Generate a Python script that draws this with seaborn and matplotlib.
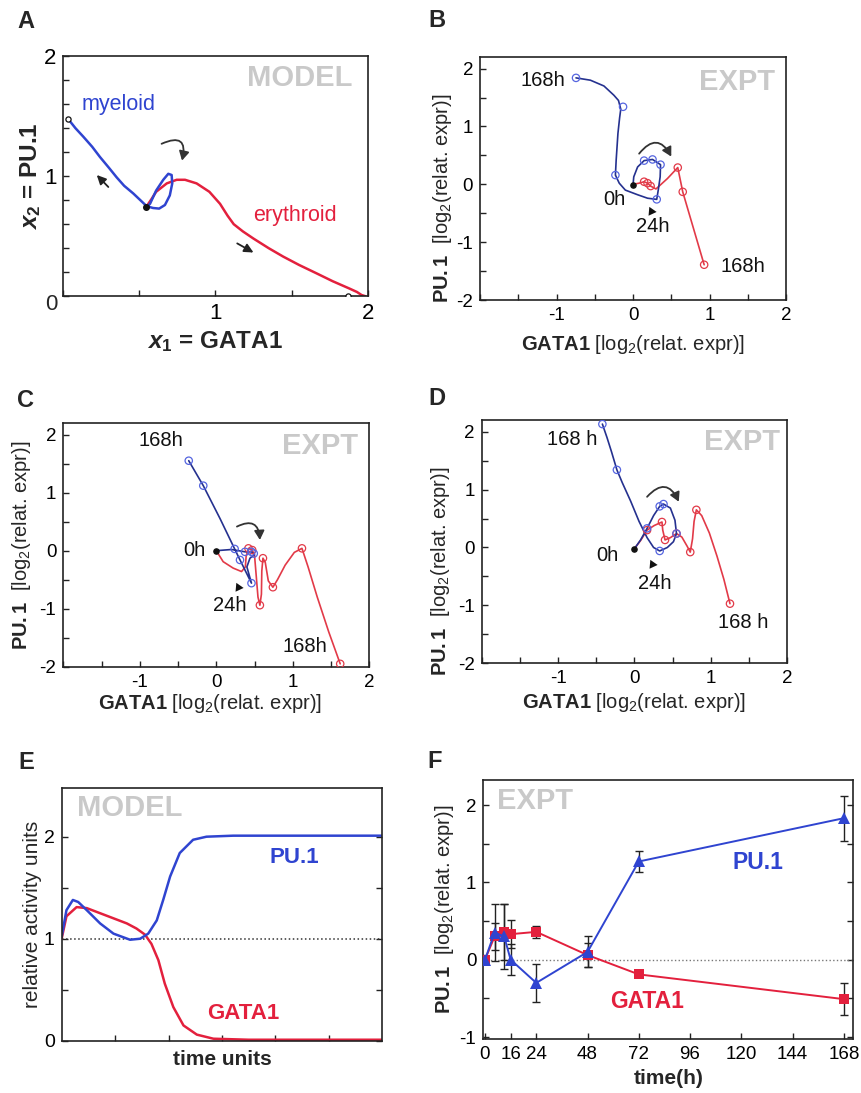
import matplotlib
matplotlib.use("Agg")
import matplotlib.pyplot as plt
import numpy as np
import seaborn as sns

# ---------------- Painel A: modelo, plano de fase ----------------
a_mieloide_x = [0.543, 0.57, 0.61, 0.657, 0.69, 0.712, 0.716, 0.70, 0.668, 0.63, 0.59, 0.548,
                0.46, 0.40, 0.351, 0.30, 0.241, 0.19, 0.131, 0.08, 0.03]
a_mieloide_y = [0.74, 0.77, 0.88, 0.97, 1.02, 1.01, 0.94, 0.84, 0.76, 0.73, 0.735, 0.75,
                0.856, 0.92, 0.99, 1.07, 1.16, 1.245, 1.33, 1.40, 1.48]
a_eritroide_x = [0.543, 0.58, 0.61, 0.68, 0.745, 0.80, 0.876, 0.96, 1.03, 1.08, 1.12, 1.18, 1.25,
                 1.35, 1.445, 1.55, 1.665, 1.77, 1.88, 1.93, 1.96, 1.985]
a_eritroide_y = [0.74, 0.81, 0.87, 0.94, 0.97, 0.97, 0.94, 0.87, 0.77, 0.67, 0.60, 0.54, 0.48,
                 0.40, 0.33, 0.26, 0.19, 0.125, 0.064, 0.035, 0.01, 0.0]
a_estados_x = [0.03, 1.87]
a_estados_y = [1.48, 0.0]
a_inicio = (0.543, 0.74)

# ---------------- Painel B ----------------
b_azul_x = [0.0, 0.01, 0.06, 0.145, 0.255, 0.36, 0.355, 0.33, 0.31, 0.19, 0.06, -0.10, -0.18, -0.23,
            -0.22, -0.197, -0.175, -0.16, -0.19, -0.25, -0.38, -0.557, -0.745]
b_azul_y = [-0.01, 0.13, 0.30, 0.41, 0.43, 0.34, 0.13, -0.10, -0.26, -0.24, -0.18, -0.10, 0.02, 0.16,
            0.42, 0.88, 1.15, 1.30, 1.45, 1.54, 1.70, 1.80, 1.84]
b_azul_mx = [0.145, 0.255, 0.36, 0.31, -0.23, -0.13, -0.745]
b_azul_my = [0.41, 0.43, 0.34, -0.26, 0.16, 1.34, 1.84]
b_verm_x = [0.0, 0.08, 0.145, 0.19, 0.23, 0.30, 0.45, 0.585, 0.65, 0.75, 0.85, 0.93]
b_verm_y = [0.0, 0.02, 0.045, 0.02, -0.03, -0.08, 0.10, 0.29, -0.13, -0.58, -1.03, -1.39]
b_verm_mx = [0.145, 0.19, 0.23, 0.585, 0.65, 0.93]
b_verm_my = [0.045, 0.02, -0.03, 0.29, -0.13, -1.39]

# ---------------- Painel C ----------------
c_azul_x = [0.0, 0.2, 0.375, 0.46, 0.50, 0.44, 0.40, 0.46, 0.31, 0.24, 0.05, -0.17, -0.36]
c_azul_y = [0.0, 0.02, -0.02, -0.02, -0.07, -0.13, -0.28, -0.56, -0.16, 0.03, 0.55, 1.12, 1.55]
c_azul_mx = [0.375, 0.46, 0.49, 0.46, 0.31, 0.24, -0.17, -0.36]
c_azul_my = [-0.02, -0.02, -0.05, -0.56, -0.16, 0.03, 1.12, 1.55]
c_verm_x = [0.0, 0.09, 0.22, 0.33, 0.38, 0.39, 0.42, 0.47, 0.50, 0.52, 0.545, 0.57, 0.59, 0.595,
            0.61, 0.64, 0.68, 0.74, 0.80, 0.90, 1.02, 1.12, 1.20, 1.32, 1.47, 1.62]
c_verm_y = [0.0, -0.19, -0.30, -0.36, -0.28, -0.10, 0.04, 0.01, -0.08, -0.40, -0.80, -0.94, -0.75,
            -0.35, -0.13, -0.20, -0.52, -0.63, -0.50, -0.25, -0.03, 0.04, -0.28, -0.80, -1.40, -1.95]
c_verm_mx = [0.42, 0.47, 0.57, 0.61, 0.74, 1.12, 1.62]
c_verm_my = [0.04, 0.01, -0.94, -0.13, -0.63, 0.04, -1.95]

# ---------------- Painel D ----------------
d_azul_x = [0.0, 0.08, 0.165, 0.25, 0.33, 0.38, 0.47, 0.53, 0.55, 0.51, 0.43, 0.33, 0.25, 0.165,
            0.06, -0.05, -0.16, -0.23, -0.30, -0.36, -0.42]
d_azul_y = [-0.02, 0.13, 0.33, 0.55, 0.71, 0.75, 0.68, 0.47, 0.24, 0.10, 0.0, -0.06, 0.0, 0.17,
            0.45, 0.80, 1.12, 1.34, 1.65, 1.90, 2.13]
d_azul_mx = [0.165, 0.33, 0.38, 0.55, 0.33, -0.23, -0.42]
d_azul_my = [0.33, 0.71, 0.75, 0.24, -0.06, 1.34, 2.13]
d_verm_x = [0.0, 0.08, 0.165, 0.26, 0.36, 0.37, 0.40, 0.47, 0.55, 0.62, 0.69, 0.73, 0.76, 0.78,
            0.81, 0.88, 0.98, 1.08, 1.17, 1.25]
d_verm_y = [-0.02, 0.12, 0.30, 0.38, 0.44, 0.30, 0.13, 0.17, 0.24, 0.18, 0.02, -0.08, 0.15, 0.45,
            0.65, 0.55, 0.25, -0.15, -0.55, -0.97]
d_verm_mx = [0.165, 0.36, 0.40, 0.55, 0.73, 0.81, 1.25]
d_verm_my = [0.30, 0.44, 0.13, 0.24, -0.08, 0.65, -0.97]

# ---------------- Painel E: modelo no tempo ----------------
e_pu1_t = [0, 0.09, 0.21, 0.31, 0.47, 0.72, 0.97, 1.28, 1.47, 1.62, 1.78, 1.90, 2.03, 2.21, 2.46,
           2.71, 3.21, 4.0, 5.0, 6.0]
e_pu1 = [1.02, 1.28, 1.38, 1.36, 1.28, 1.15, 1.05, 0.99, 1.00, 1.05, 1.18, 1.38, 1.61, 1.84, 1.97,
         2.00, 2.01, 2.01, 2.01, 2.01]
e_gata1_t = [0, 0.09, 0.28, 0.47, 0.72, 0.97, 1.22, 1.40, 1.56, 1.68, 1.81, 1.93, 2.09, 2.28, 2.53,
             2.84, 3.5, 4.5, 6.0]
e_gata1 = [1.00, 1.22, 1.31, 1.30, 1.25, 1.20, 1.15, 1.10, 1.04, 0.95, 0.79, 0.56, 0.33, 0.15, 0.06,
           0.02, 0.01, 0.01, 0.01]

# ---------------- Painel F: experimento no tempo ----------------
f_tempo = [0, 6, 12, 16, 24, 48, 72, 168]
f_pu1 = [0.0, 0.35, 0.30, 0.0, -0.30, 0.10, 1.27, 1.83]
f_pu1_erro = [0.02, 0.37, 0.42, 0.20, 0.25, 0.20, 0.13, 0.29]
f_gata1 = [0.0, 0.30, 0.36, 0.33, 0.36, 0.06, -0.19, -0.51]
f_gata1_erro = [0.02, 0.17, 0.36, 0.18, 0.08, 0.16, 0.04, 0.21]
f_ticks = [0, 16, 24, 48, 72, 96, 120, 144, 168]
# o eixo original comprime o trecho 0-16 h
f_escala_real = [-10, 0, 16, 24, 500]
f_escala_tela = [-10, 0, 12, 24, 500]

# rótulos de eixo
ticks_expt = [-2, -1.5, -1, -0.5, 0, 0.5, 1, 1.5, 2]
rot_expt_x = ["", "", "-1", "", "0", "", "1", "", "2"]
rot_expt_y = ["-2", "", "-1", "", "0", "", "1", "", "2"]

AZUL_A, VERM_A = "#2f44d0", "#e3203d"
AZUL_ESC, AZUL_CIRC = "#25318f", "#5565e0"
VERM_EXP = "#e23a48"
CINZA = "#c9c9c9"

sns.set_theme(style="ticks")
plt.rcParams["font.family"] = ["Liberation Sans", "DejaVu Sans"]
plt.rcParams["mathtext.fontset"] = "custom"
plt.rcParams["mathtext.rm"] = "Liberation Sans"
plt.rcParams["mathtext.it"] = "Liberation Sans:italic"
plt.rcParams["mathtext.bf"] = "Liberation Sans:bold"
plt.rcParams["mathtext.bfit"] = "Liberation Sans:italic:bold"


def estilo(ax, tamanho=13.5, direita=False):
    for s in ax.spines.values():
        s.set_linewidth(1.2)
        s.set_color("#222222")
    ax.tick_params(direction="in", length=4, width=1, colors="#222222", labelcolor="black",
                   labelsize=tamanho, right=direita, top=False, pad=5)
    ax.grid(False)


def seta_curva(ax, ini, fim, rad):
    ax.annotate("", xy=fim, xytext=ini,
                arrowprops=dict(arrowstyle="-|>,head_length=0.45,head_width=0.25", color="#333333",
                                lw=1.3, connectionstyle=f"arc3,rad={rad}", shrinkA=0, shrinkB=0))


def seta_reta(ax, ini, fim):
    ax.annotate("", xy=fim, xytext=ini,
                arrowprops=dict(arrowstyle="-|>,head_length=0.45,head_width=0.22", color="#222222",
                                lw=1.3, shrinkA=0, shrinkB=0))


def painel_expt(ax, bx, by, bmx, bmy, rx, ry, rmx, rmy):
    sns.lineplot(x=rx, y=ry, ax=ax, sort=False, estimator=None, color=VERM_EXP, lw=1.2)
    sns.lineplot(x=bx, y=by, ax=ax, sort=False, estimator=None, color=AZUL_ESC, lw=1.2)
    ax.scatter(rmx, rmy, s=28, facecolors="none", edgecolors=VERM_EXP, linewidths=0.9, zorder=4)
    ax.scatter(bmx, bmy, s=28, facecolors="none", edgecolors=AZUL_CIRC, linewidths=0.9, zorder=4)
    ax.scatter([bx[0]], [by[0]], s=14, color="#111111", zorder=5)
    ax.set_xlim(-2, 2)
    ax.set_ylim(-2, 2.2)
    ax.set_xticks(ticks_expt)
    ax.set_xticklabels(rot_expt_x)
    ax.set_yticks(ticks_expt)
    ax.set_yticklabels(rot_expt_y)
    estilo(ax)
    ax.set_xlabel(r"$\mathbf{GATA1}$ [log$_2$(relat. expr)]", fontsize=14.5)
    ax.set_ylabel(r"$\mathbf{PU.1}$  [log$_2$(relat. expr)]", fontsize=14.5)


def textos_expt(ax, t168a, t0, t24, t168b, expt, tri, seta_i, seta_f):
    kw = dict(fontsize=14.5, ha="center", va="center", color="#111111")
    ax.text(*t168a[:2], t168a[2], **kw)
    ax.text(*t0, "0h", **kw)
    ax.text(*t24, "24h", **kw)
    ax.text(*t168b[:2], t168b[2], **kw)
    ax.text(*expt, "EXPT", fontsize=21, fontweight="bold", color=CINZA, ha="center", va="center")
    # pequena ponta de seta apontando para o ponto de 24h
    ax.scatter([tri[0]], [tri[1]], marker=(3, 0, 25), s=55, color="#111111", linewidths=0, zorder=5)
    seta_curva(ax, seta_i, seta_f, -0.75)


fig = plt.figure(figsize=(8.61, 10.93), dpi=100)
axA = fig.add_axes([0.0735, 0.729, 0.3535, 0.2196])
axB = fig.add_axes([0.5575, 0.7255, 0.3554, 0.2223])
axC = fig.add_axes([0.0735, 0.390, 0.3554, 0.2230])
axD = fig.add_axes([0.5594, 0.3931, 0.3550, 0.2226])
axE = fig.add_axes([0.0716, 0.0478, 0.3724, 0.2315])
axF = fig.add_axes([0.5613, 0.0498, 0.4297, 0.2370])

# ---- A ----
sns.lineplot(x=a_eritroide_x, y=a_eritroide_y, ax=axA, sort=False, estimator=None, color=VERM_A, lw=1.8)
sns.lineplot(x=a_mieloide_x, y=a_mieloide_y, ax=axA, sort=False, estimator=None, color=AZUL_A, lw=1.8)
axA.scatter(a_estados_x, a_estados_y, s=14, facecolors="white", edgecolors="#111111", linewidths=0.9, zorder=5)
axA.scatter([a_inicio[0]], [a_inicio[1]], s=16, color="#111111", zorder=5)
axA.set_xlim(0, 2)
axA.set_ylim(0, 2)
axA.set_xticks([0, 0.5, 1, 1.5, 2])
axA.set_xticklabels(["", "", "1", "", "2"])
axA.set_yticks(np.round(np.arange(0, 2.01, 0.2), 1))
axA.set_yticklabels(["", "", "", "", "", "1", "", "", "", "", "2"])
estilo(axA, tamanho=16)
axA.text(-0.02, -0.035, "0", transform=axA.transAxes, fontsize=16, ha="right", va="center")
axA.set_xlabel(r"$\mathbfit{x}_{\mathbf{1}}$ = GATA1", fontsize=17.5, fontweight="bold")
axA.set_ylabel(r"$\mathbfit{x}_{\mathbf{2}}$ = PU.1", fontsize=17.5, fontweight="bold")
axA.text(0.36, 1.6, "myeloid", color=AZUL_A, fontsize=15.5, ha="center", va="center")
axA.text(1.52, 0.67, "erythroid", color=VERM_A, fontsize=15.5, ha="center", va="center")
axA.text(1.557, 1.82, "MODEL", color=CINZA, fontsize=21, fontweight="bold", ha="center", va="center")
seta_curva(axA, (0.646, 1.27), (0.78, 1.13), -1.0)
seta_reta(axA, (0.296, 0.91), (0.22, 1.01))
seta_reta(axA, (1.143, 0.44), (1.25, 0.364))

# ---- B, C, D ----
painel_expt(axB, b_azul_x, b_azul_y, b_azul_mx, b_azul_my, b_verm_x, b_verm_y, b_verm_mx, b_verm_my)
textos_expt(axB, (-1.18, 1.80, "168h"), (-0.245, -0.26), (0.255, -0.73), (1.43, -1.42, "168h"),
            (1.36, 1.77), (0.23, -0.455), (0.08, 0.53), (0.50, 0.48))
painel_expt(axC, c_azul_x, c_azul_y, c_azul_mx, c_azul_my, c_verm_x, c_verm_y, c_verm_mx, c_verm_my)
textos_expt(axC, (-0.73, 1.89, "168h"), (-0.29, 0.0), (0.18, -0.95), (1.16, -1.66, "168h"),
            (1.36, 1.81), (0.29, -0.62), (0.27, 0.415), (0.57, 0.185))
painel_expt(axD, d_azul_x, d_azul_y, d_azul_mx, d_azul_my, d_verm_x, d_verm_y, d_verm_mx, d_verm_my)
textos_expt(axD, (-0.81, 1.86, "168 h"), (-0.36, -0.13), (0.26, -0.62), (1.42, -1.29, "168 h"),
            (1.41, 1.82), (0.23, -0.28), (0.165, 0.875), (0.58, 0.79))

# ---- E ----
axE.axhline(1, ls=":", color="#333333", lw=1.1)
sns.lineplot(x=e_gata1_t, y=e_gata1, ax=axE, color=VERM_A, lw=1.8)
sns.lineplot(x=e_pu1_t, y=e_pu1, ax=axE, color=AZUL_A, lw=1.8)
axE.set_xlim(0, 6)
axE.set_ylim(0, 2.48)
axE.set_xticks([1, 2, 3, 4, 5])
axE.set_xticklabels([])
axE.set_yticks([0, 0.5, 1, 1.5, 2])
axE.set_yticklabels(["0", "", "1", "", "2"])
estilo(axE, tamanho=14, direita=True)
axE.set_xlabel("time units", fontsize=15, fontweight="bold")
axE.set_ylabel("relative activity units", fontsize=15)
axE.text(1.27, 2.28, "MODEL", color=CINZA, fontsize=21, fontweight="bold", ha="center", va="center")
axE.text(4.36, 1.80, "PU.1", color=AZUL_A, fontsize=16, fontweight="bold", ha="center", va="center")
axE.text(3.40, 0.27, "GATA1", color=VERM_A, fontsize=16, fontweight="bold", ha="center", va="center")

# ---- F ----
axF.set_xscale("function", functions=(lambda t: np.interp(t, f_escala_real, f_escala_tela),
                                      lambda u: np.interp(u, f_escala_tela, f_escala_real)))
axF.axhline(0, ls=":", color="#777777", lw=1.0)
axF.errorbar(f_tempo, f_pu1, yerr=f_pu1_erro, fmt="none", ecolor="#222222", elinewidth=1, capsize=3, zorder=2)
axF.errorbar(f_tempo, f_gata1, yerr=f_gata1_erro, fmt="none", ecolor="#222222", elinewidth=1, capsize=3, zorder=2)
sns.lineplot(x=f_tempo, y=f_gata1, ax=axF, color=VERM_A, lw=1.4, marker="s", markersize=7,
             markeredgewidth=0, zorder=3)
sns.lineplot(x=f_tempo, y=f_pu1, ax=axF, color=AZUL_A, lw=1.4, marker="^", markersize=8,
             markeredgewidth=0, zorder=3)
axF.set_xlim(-0.8, 172.4)
axF.set_ylim(-1.02, 2.33)
axF.set_xticks(f_ticks)
axF.set_xticklabels([str(t) for t in f_ticks])
axF.minorticks_off()
axF.set_yticks([-1, -0.5, 0, 0.5, 1, 1.5, 2])
axF.set_yticklabels(["-1", "", "0", "", "1", "", "2"])
estilo(axF, tamanho=13.5, direita=True)
axF.set_xlabel("time(h)", fontsize=15, fontweight="bold")
axF.set_ylabel(r"$\mathbf{PU.1}$  [log$_2$(relat. expr)]", fontsize=14.5)
axF.text(23.6, 2.05, "EXPT", color=CINZA, fontsize=21, fontweight="bold", ha="center", va="center")
axF.text(127.7, 1.26, "PU.1", color=AZUL_A, fontsize=16.5, fontweight="bold", ha="center", va="center")
axF.text(75.8, -0.54, "GATA1", color=VERM_A, fontsize=16.5, fontweight="bold", ha="center", va="center")

# posições dos rótulos dos eixos
for ax, px, py in [(axA, -0.19, -0.109), (axB, -0.185, -0.124), (axC, -0.149, -0.135),
                   (axD, -0.163, -0.133), (axE, -0.076, -0.09), (axF, -0.153, -0.104)]:
    ax.xaxis.set_label_coords(0.5, px)
    ax.xaxis.label.set_va("center")
    ax.yaxis.set_label_coords(py, 0.5)
    ax.yaxis.label.set_va("center")
axC.xaxis.set_label_coords(0.48, -0.149)
axB.yaxis.set_label_coords(-0.124, 0.42)
axD.yaxis.set_label_coords(-0.133, 0.38)

for letra, x, y in [("A", 0.030, 0.980), ("B", 0.5075, 0.981), ("C", 0.030, 0.634),
                    ("D", 0.5075, 0.635), ("E", 0.030, 0.302), ("F", 0.505, 0.303)]:
    fig.text(x, y, letra, fontsize=17, fontweight="bold", ha="center", va="center")

fig.savefig("out.png", dpi=100)
plt.close(fig)
